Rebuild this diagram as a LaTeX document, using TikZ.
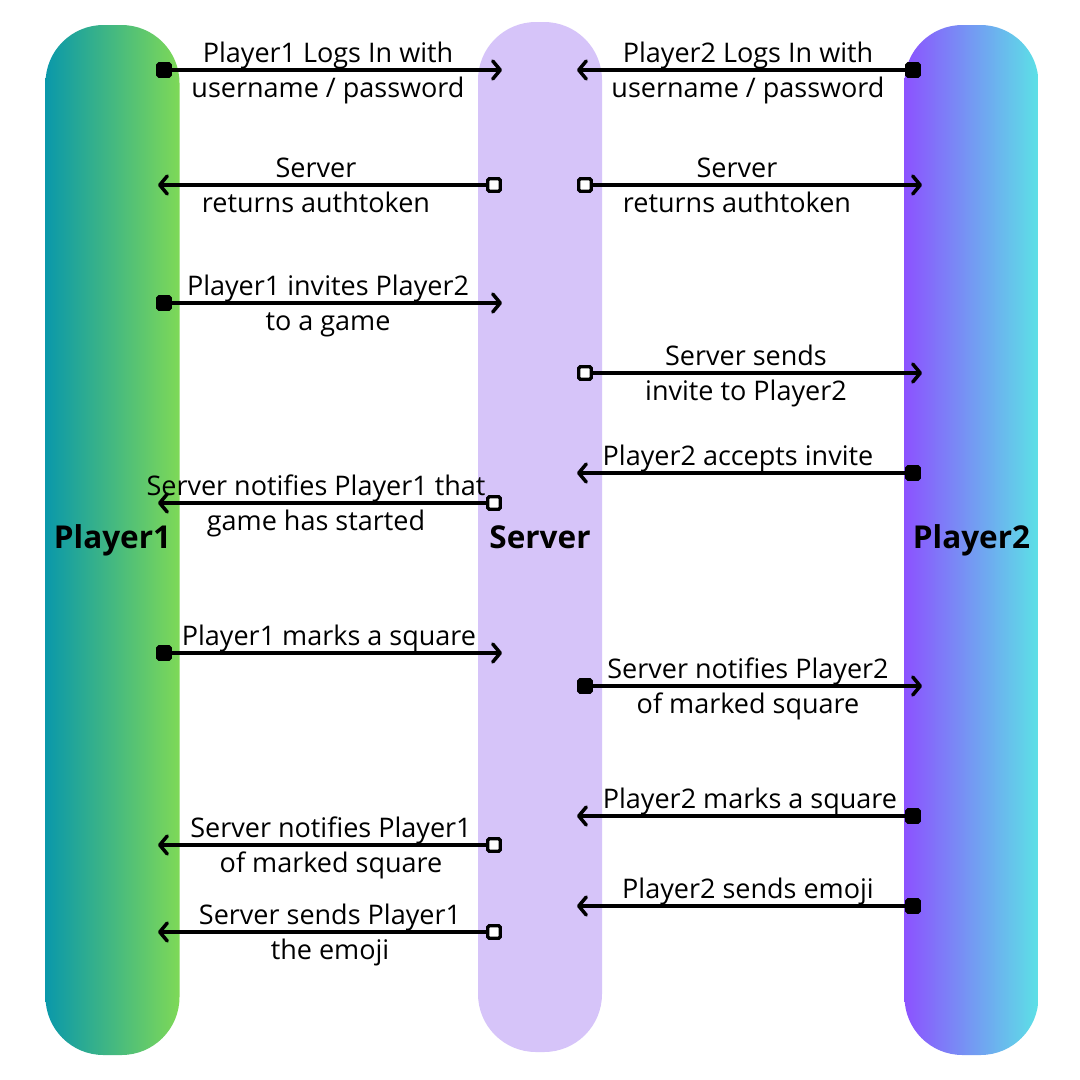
\documentclass[tikz,border=0pt]{standalone}
\usepackage{fontspec}
\setmainfont{Open Sans}
\usetikzlibrary{arrows.meta}
\definecolor{oneleft}{HTML}{0A98AA}
\definecolor{oneright}{HTML}{7ED957}
\definecolor{serverfill}{HTML}{D6C4F9}
\definecolor{twoleft}{HTML}{8C52FF}
\definecolor{tworight}{HTML}{5CE1E6}
\tikzset{
  lane/.style = {minimum width=134pt, minimum height=1030pt, inner sep=0pt,
    rounded corners=58pt, font=\fontsize{31.5}{36}\selectfont\bfseries},
  box/.style = {draw=black, line width=3.3pt, minimum size=12.5pt, inner sep=0pt,
    rounded corners=1.5pt},
  msg/.style = {line width=3.5pt, -{Straight Barb[length=7.5pt,width=18pt,round]}},
  txt/.style = {font=\fontsize{27}{32}\selectfont, anchor=base, inner sep=0pt}
}

\begin{document}
\begin{tikzpicture}[x=1pt,y=-1pt]
  \fill[white] (0,0) rectangle (1080,1080);
  \useasboundingbox (0,0) rectangle (1080,1080);
  %
  \node[lane, left color=oneleft, right color=oneright] (p1) at (112.5,540) {Player1};
  \node[lane, fill=serverfill, minimum width=124pt] (srv) at (540,537) {Server};
  \node[lane, left color=twoleft, right color=tworight] (p2) at (971.5,540) {Player2};
  %
  \foreach \y/\sx/\ex/\fc/\lx/\la/\lb [count=\i] in {
    70/164/502/black/328/{Player1 Logs In with}/{username / password},
    70/913/577/black/748/{Player2 Logs In with}/{username / password},
    185/494/158/white/316/Server/{returns authtoken},
    185/585/922/white/737/Server/{returns authtoken},
    303/164/502/black/328/{Player1 invites Player2}/{to a game},
    373/585/922/white/746/{Server sends}/{invite to Player2},
    473/913/577/black/738/{Player2 accepts invite}/{},
    503/494/158/white/316/{Server notifies Player1 that}/{game has started},
    653/164/502/black/329/{Player1 marks a square}/{},
    686/585/922/black/748/{Server notifies Player2}/{of marked square},
    816/913/577/black/750/{Player2 marks a square}/{},
    845/494/158/white/331/{Server notifies Player1}/{of marked square},
    906/913/577/black/748/{Player2 sends emoji}/{},
    932/494/158/white/330/{Server sends Player1}/{the emoji}
  } {
    \node[box, fill=\fc] (s\i) at (\sx,\y) {};
    \coordinate (e\i) at (\ex,\y);
    \draw[msg] (s\i) -- (e\i);
    \node[txt] (la\i) at (\lx,\y-8) {\la};
    \node[txt] (lb\i) at (\lx,\y+27) {\lb};
  }
\end{tikzpicture}
\end{document}
